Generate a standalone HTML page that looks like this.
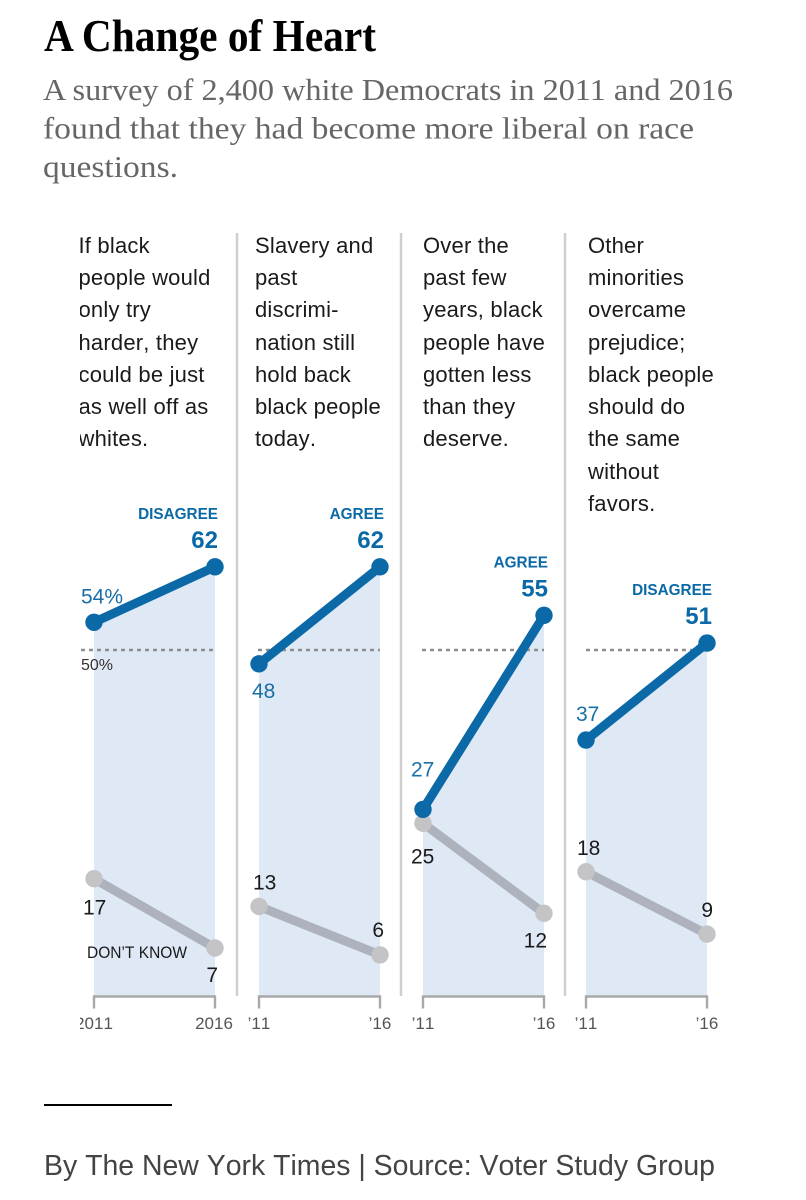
<!DOCTYPE html>
<html lang="en">
<head>
<meta charset="utf-8">
<title>A Change of Heart</title>
<style>
html,body{margin:0;padding:0;background:#fff;width:806px;height:1200px;overflow:hidden}
svg{display:block}
text{font-family:"Liberation Sans",sans-serif;font-kerning:none}
text.serif{font-family:"Liberation Serif",serif;font-kerning:normal}
.q{font-size:22px;fill:#1a1a1a;letter-spacing:.2px}
</style>
</head>
<body>
<svg id="chart" width="806" height="1200" viewBox="0 0 806 1200" xmlns="http://www.w3.org/2000/svg">
  <defs>
    <clipPath id="clip-first"><rect x="80" y="200" width="170" height="860"/></clipPath>
  </defs>
  <text class="serif" x="44" y="51" font-size="46" font-weight="700" fill="#000" textLength="332" lengthAdjust="spacingAndGlyphs">A Change of Heart</text>
  <g fill="#666" font-size="31">
    <text class="serif" x="43" y="100" textLength="690" lengthAdjust="spacingAndGlyphs">A survey of 2,400 white Democrats in 2011 and 2016</text>
    <text class="serif" x="43" y="138.5" textLength="651" lengthAdjust="spacingAndGlyphs">found that they had become more liberal on race</text>
    <text class="serif" x="43" y="177" textLength="135" lengthAdjust="spacingAndGlyphs">questions.</text>
  </g>

  <g clip-path="url(#clip-first)">
    <text class="q" x="78.5" y="253">If black</text>
    <text class="q" x="78.5" y="285">people would</text>
    <text class="q" x="78.5" y="317">only try</text>
    <text class="q" x="78.5" y="350">harder, they</text>
    <text class="q" x="78.5" y="382">could be just</text>
    <text class="q" x="78.5" y="414">as well off as</text>
    <text class="q" x="78.5" y="446">whites.</text>
  </g>
  <g>
    <text class="q" x="255" y="253">Slavery and</text>
    <text class="q" x="255" y="285">past</text>
    <text class="q" x="255" y="317">discrimi-</text>
    <text class="q" x="255" y="350">nation still</text>
    <text class="q" x="255" y="382">hold back</text>
    <text class="q" x="255" y="414">black people</text>
    <text class="q" x="255" y="446">today.</text>
  </g>
  <g>
    <text class="q" x="423" y="253">Over the</text>
    <text class="q" x="423" y="285">past few</text>
    <text class="q" x="423" y="317">years, black</text>
    <text class="q" x="423" y="350">people have</text>
    <text class="q" x="423" y="382">gotten less</text>
    <text class="q" x="423" y="414">than they</text>
    <text class="q" x="423" y="446">deserve.</text>
  </g>
  <g>
    <text class="q" x="588" y="253">Other</text>
    <text class="q" x="588" y="285">minorities</text>
    <text class="q" x="588" y="317">overcame</text>
    <text class="q" x="588" y="350">prejudice;</text>
    <text class="q" x="588" y="382">black people</text>
    <text class="q" x="588" y="414">should do</text>
    <text class="q" x="588" y="446">the same</text>
    <text class="q" x="588" y="479">without</text>
    <text class="q" x="588" y="511">favors.</text>
  </g>

  <g id="plots"></g>

  <rect x="44" y="1104" width="128" height="2" fill="#000"/>
  <text x="44" y="1175" font-size="28.5" fill="#444" textLength="671" lengthAdjust="spacingAndGlyphs">By The New York Times | Source: Voter Study Group</text>
</svg>
<script>
// ---- data ----
const stanceLabels = ["DISAGREE", "AGREE", "AGREE", "DISAGREE"];
const stance2011 = [54, 48, 27, 37];
const stance2016 = [62, 62, 55, 51];
const dontKnow2011 = [17, 13, 25, 18];
const dontKnow2016 = [7, 6, 12, 9];
const startTicks = ["2011", "\u201911", "\u201911", "\u201911"];
const endTicks = ["2016", "\u201916", "\u201916", "\u201916"];
const referenceValue = 50;

// ---- layout ----
const NS = "http://www.w3.org/2000/svg";
const plots = document.getElementById("plots");
const panelLeft = [94, 259, 423, 586];
const separatorCenter = [237, 401, 565];
const panelWidth = 121;
const yZero = 996.5;
const pxPerPoint = 6.93;
const BLUE = "#0a69a6";
const y = function (v) { return yZero - v * pxPerPoint; };
const xStart = function (i) { return panelLeft[i]; };
const xEnd = function (i) { return panelLeft[i] + panelWidth; };

// label offsets relative to each mark: [dx, dy]
const stanceStartOffset = [[-13, -19], [-7, 34], [-12, -33], [-10, -19]];
const unknownStartOffset = [[-11, 36], [-6, -17], [-12, 40], [-9, -17]];
const unknownEndOffset = [[3, 34], [4, -18], [3, 34], [6, -17]];
const stanceEndShift = [3, 4, 4, 5];
const tickEndShift = [-1, 0, 0, 0];
const dashStartShift = [-13, -1, -1, 0];

function el(tag, attrs, parent, text) {
  const n = document.createElementNS(NS, tag);
  for (const k in attrs) n.setAttribute(k, attrs[k]);
  if (text !== undefined) n.textContent = text;
  (parent || plots).appendChild(n);
  return n;
}

stance2011.forEach(function (_, i) {
  const g = el("g", {});
  
  
  const x0 = xStart(i), x1 = xEnd(i);

  const area = el("polygon", {
    points: x0 + "," + y(0) + " " + x0 + "," + y(stance2011[i]) + " " + x1 + "," + y(stance2016[i]) + " " + x1 + "," + y(0),
    fill: "#dfe8f5"
  }, g);
  
  

  const refLine = el("line", {
    x1: x0 + dashStartShift[i], x2: x1, y1: y(referenceValue), y2: y(referenceValue),
    stroke: "#8f8f8f", "stroke-width": 2.5, "stroke-dasharray": "4 4"
  }, g);
  
  

  if (i < 3) {
    const sep = el("rect", { x: separatorCenter[i] - 1.25, y: 233, width: 2.5, height: 763, fill: "#cfcfcf" }, g);
    
    
  }

  const axis = el("path", {
    d: "M" + x0 + " " + (yZero + 12) + "V" + yZero + "H" + x1 + "V" + (yZero + 12),
    fill: "none", stroke: "#a8a8a8", "stroke-width": 2.4
  }, g);
  
  

  const tick0 = el("text", { x: x0, y: 1029, "font-size": 17, fill: "#555", "text-anchor": "middle" }, g, startTicks[i]);
  
  
  if (i === 0) tick0.setAttribute('clip-path', 'url(#clip-first)');

  const tick1 = el("text", { x: x1 + tickEndShift[i], y: 1029, "font-size": 17, fill: "#555", "text-anchor": "middle" }, g, endTicks[i]);
  
  

  const greyLine = el("line", {
    x1: x0, y1: y(dontKnow2011[i]), x2: x1, y2: y(dontKnow2016[i]),
    stroke: "#adb2bd", "stroke-width": 9
  }, g);
  
  

  const greyA = el("circle", { cx: x0, cy: y(dontKnow2011[i]), r: 8.7, fill: "#c4c4c6" }, g);
  
  

  const greyB = el("circle", { cx: x1, cy: y(dontKnow2016[i]), r: 8.7, fill: "#c4c4c6" }, g);
  
  

  const blueLine = el("line", {
    x1: x0, y1: y(stance2011[i]), x2: x1, y2: y(stance2016[i]),
    stroke: BLUE, "stroke-width": 9
  }, g);
  
  

  const blueA = el("circle", { cx: x0, cy: y(stance2011[i]), r: 8.7, fill: BLUE }, g);
  
  

  const blueB = el("circle", { cx: x1, cy: y(stance2016[i]), r: 8.7, fill: BLUE }, g);
  
  

  const so = stanceStartOffset[i];
  const stanceStart = el("text", { x: x0 + so[0], y: y(stance2011[i]) + so[1], "font-size": 21, fill: "#1a6fa8" }, g, stance2011[i] + (i === 0 ? "%" : ""));
  
  

  const stanceEnd = el("text", { x: x1 + stanceEndShift[i], y: y(stance2016[i]) - 19, "font-size": 24, "font-weight": 700, fill: BLUE, "text-anchor": "end" }, g, stance2016[i]);
  
  

  const stance = el("text", { x: x1 + stanceEndShift[i], y: y(stance2016[i]) - 48, "font-size": 15.3, "font-weight": 700, fill: BLUE, "text-anchor": "end" }, g, stanceLabels[i]);
  
  

  const uo = unknownStartOffset[i];
  const unknownStart = el("text", { x: x0 + uo[0], y: y(dontKnow2011[i]) + uo[1], "font-size": 21, fill: "#1a1a1a" }, g, dontKnow2011[i]);
  
  

  const ue = unknownEndOffset[i];
  const unknownEnd = el("text", { x: x1 + ue[0], y: y(dontKnow2016[i]) + ue[1], "font-size": 21, fill: "#1a1a1a", "text-anchor": "end" }, g, dontKnow2016[i]);
  
  
});

const fiftyLabel = el("text", { x: 81, y: y(referenceValue) + 20, "font-size": 16, fill: "#333" }, plots, referenceValue + "%");



const dkLabel = el("text", { x: 87, y: 958, "font-size": 17, fill: "#1a1a1a", textLength: 100, lengthAdjust: "spacingAndGlyphs" }, plots, "DON\u2019T KNOW");


</script>
</body>
</html>
